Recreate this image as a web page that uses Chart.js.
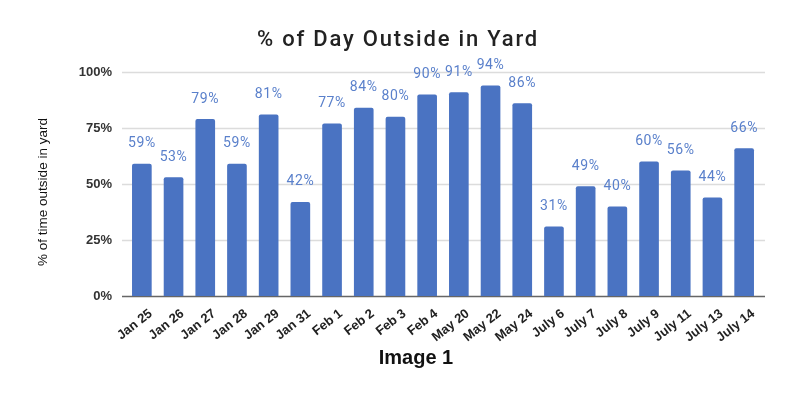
<!DOCTYPE html>
<html>
<head>
<meta charset="utf-8">
<script src="https://cdn.jsdelivr.net/npm/chart.js@4.4.1/dist/chart.umd.min.js"></script>
<style>
  html, body { margin: 0; padding: 0; background: #fff; }
  #wrap { width: 800px; height: 394px; }
</style>
</head>
<body>
<div id="wrap"><canvas id="yard-chart" width="800" height="394"></canvas></div>
<script>
  // Categories and values
  const dayLabels = ['Jan 25', 'Jan 26', 'Jan 27', 'Jan 28', 'Jan 29', 'Jan 31', 'Feb 1', 'Feb 2', 'Feb 3', 'Feb 4',
    'May 20', 'May 22', 'May 24', 'July 6', 'July 7', 'July 8', 'July 9', 'July 11', 'July 13', 'July 14'];
  const percentOutside = [59, 53, 79, 59, 81, 42, 77, 84, 80, 90, 91, 94, 86, 31, 49, 40, 60, 56, 44, 66];
  const yTicks = [0, 25, 50, 75, 100];

  const chartTitle = '% of Day Outside in Yard';
  const yAxisTitle = '% of time outside in yard';
  const caption = 'Image 1';

  const barColor = '#4a73c2';
  const labelColor = '#5a80cb';

  // Horizontal grid lines, a bit wider than the bar area like the original
  const gridPlugin = {
    id: 'yardGrid',
    beforeDatasetsDraw(chart) {
      const { ctx, chartArea, scales } = chart;
      ctx.save();
      yTicks.forEach(v => {
        const y = Math.round(scales.y.getPixelForValue(v)) + 0.5;
        ctx.strokeStyle = v === 0 ? '#666666' : '#dcdcdc';
        ctx.lineWidth = 1.5;
        ctx.beginPath();
        ctx.moveTo(chartArea.left - 4, y);
        ctx.lineTo(chartArea.right + 5, y);
        ctx.stroke();
      });
      ctx.restore();
    }
  };

  // Title, caption and y axis title drawn by hand (letter spaced, shifted like the original)
  const textPlugin = {
    id: 'yardText',
    afterDraw(chart) {
      const { ctx, chartArea } = chart;
      ctx.save();
      ctx.textAlign = 'center';
      ctx.textBaseline = 'middle';

      ctx.fillStyle = '#222222';
      ctx.font = '500 22px Roboto';
      ctx.letterSpacing = '1.8px';
      ctx.fillText(chartTitle, 398, 40);

      ctx.letterSpacing = '0px';
      ctx.fillStyle = '#111111';
      ctx.font = 'bold 20px "Liberation Sans", Arial';
      ctx.fillText(caption, 416, 358);

      ctx.font = '13.5px "Liberation Sans", Arial';
      ctx.translate(43, (chartArea.top + chartArea.bottom) / 2 + 8);
      ctx.rotate(-Math.PI / 2);
      ctx.fillText(yAxisTitle, 0, 0);
      ctx.restore();
    }
  };

  // Value labels above each bar
  const valueLabels = {
    id: 'valueLabels',
    afterDatasetsDraw(chart) {
      const { ctx } = chart;
      const meta = chart.getDatasetMeta(0);
      ctx.save();
      ctx.font = '14px Roboto';
      ctx.letterSpacing = '0.6px';
      ctx.fillStyle = labelColor;
      ctx.textAlign = 'center';
      ctx.textBaseline = 'middle';
      meta.data.forEach((bar, i) => {
        ctx.fillText(percentOutside[i] + '%', bar.x, bar.y - 20);
      });
      ctx.restore();
    }
  };

  const ctx = document.getElementById('yard-chart').getContext('2d');
  new Chart(ctx, {
    type: 'bar',
    data: {
      labels: dayLabels,
      datasets: [{
        label: chartTitle,
        data: percentOutside,
        backgroundColor: barColor,
        borderColor: barColor,
        borderWidth: 0,
        borderRadius: 2,
        borderSkipped: 'bottom',
        barPercentage: 0.62,
        categoryPercentage: 1.0
      }]
    },
    options: {
      responsive: false,
      animation: false,
      layout: { padding: { left: 0, right: 40, top: 72, bottom: 50 } },
      plugins: {
        legend: { display: false },
        tooltip: { enabled: false },
        title: { display: false }
      },
      scales: {
        x: {
          grid: { display: false, drawTicks: false },
          border: { display: false },
          ticks: {
            color: '#222222',
            font: { family: 'Liberation Sans, Arial', size: 13, weight: 'bold' },
            minRotation: 38,
            maxRotation: 38,
            padding: 10,
            labelOffset: 9,
            autoSkip: false
          },
          afterFit(scale) { scale.height = 48; }
        },
        y: {
          min: 0,
          max: 100,
          grid: { display: false, drawTicks: false },
          border: { display: false },
          afterBuildTicks(scale) { scale.ticks = yTicks.map(v => ({ value: v })); },
          ticks: {
            color: '#333333',
            font: { family: 'Liberation Sans, Arial', size: 13, weight: 'bold' },
            padding: 14,
            callback: v => v + '%'
          },
          title: { display: false },
          afterFit(scale) { scale.width = 126; }
        }
      }
    },
    plugins: [gridPlugin, valueLabels, textPlugin]
  });
</script>
</body>
</html>
